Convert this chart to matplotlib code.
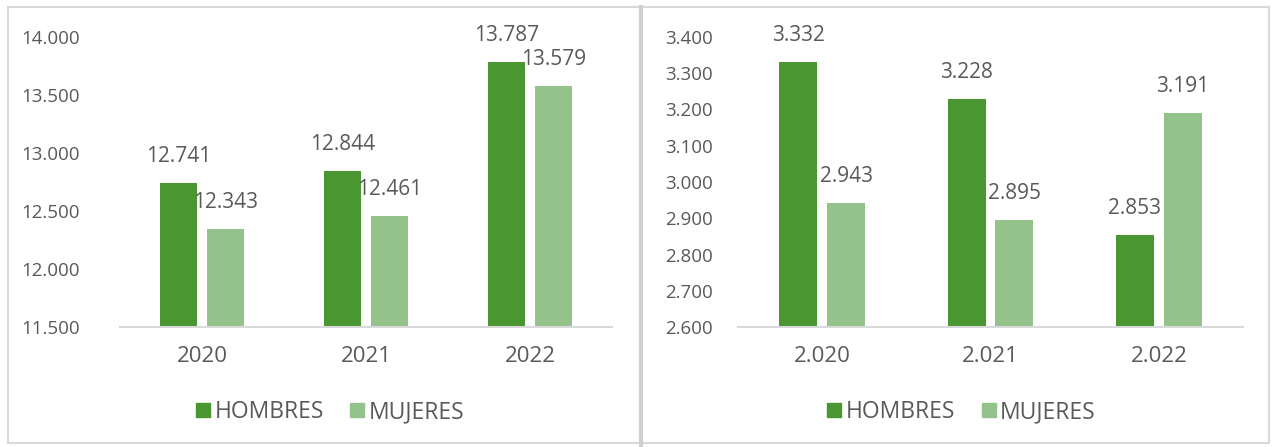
import matplotlib
matplotlib.use("Agg")
from matplotlib import pyplot as plt
from matplotlib.patches import Rectangle
from matplotlib.lines import Line2D

# Data
years_left = ["2020", "2021", "2022"]
hombres_left = [12741, 12844, 13787]
mujeres_left = [12343, 12461, 13579]

years_right = ["2.020", "2.021", "2.022"]
hombres_right = [3332, 3228, 2853]
mujeres_right = [2943, 2895, 3191]

series_names = ["HOMBRES", "MUJERES"]
colors = ["#4a9630", "#93c38a"]
text_color = "#595959"
border_color = "#d9d9d9"

W, H = 1272, 447
plt.rcParams["font.family"] = ["Open Sans", "DejaVu Sans"]

fig = plt.figure(figsize=(W / 100, H / 100), dpi=100)
fig.patch.set_facecolor("white")


def px_axes(x0, x1, y_top, y_bot):
    return fig.add_axes([x0 / W, 1 - y_bot / H, (x1 - x0) / W, (y_bot - y_top) / H])


def fmt(v):
    return f"{v:,.0f}".replace(",", ".")


def draw_panel(ax, cats, hombres, mujeres, ylim, yticks, ypad, legend_x):
    width = 0.225
    off = 0.142
    xs = range(len(cats))
    for vals, sign, color in [(hombres, -1, colors[0]), (mujeres, 1, colors[1])]:
        pos = [x + sign * off for x in xs]
        heights = [v - ylim[0] for v in vals]
        ax.bar(pos, heights, width, bottom=ylim[0], color=color, zorder=2)
        for p, v in zip(pos, vals):
            ax.annotate(fmt(v), (p, v), xytext=(0, 19), textcoords="offset points",
                        ha="center", va="center", fontsize=15, color=text_color)
    ax.set_xlim(-0.5, len(cats) - 0.5)
    ax.set_ylim(*ylim)
    ax.set_xticks(list(xs))
    ax.set_xticklabels(cats, fontsize=16, color=text_color)
    ax.set_yticks(yticks)
    ax.set_yticklabels([fmt(t) for t in yticks], fontsize=13.5, color=text_color)
    ax.tick_params(axis="x", length=0, pad=14)
    ax.tick_params(axis="y", length=0, pad=ypad)
    for s in ["top", "right", "left"]:
        ax.spines[s].set_visible(False)
    ax.spines["bottom"].set_color(border_color)
    ax.spines["bottom"].set_linewidth(1.5)
    ax.set_facecolor("none")

    handles = [Line2D([], [], marker="s", linestyle="none", markersize=10,
                      color=c) for c in colors]
    leg = ax.legend(handles, series_names, loc="center", ncol=2, frameon=False,
                    bbox_to_anchor=(legend_x / W, 1 - 412 / H),
                    bbox_transform=fig.transFigure, fontsize=16.5,
                    handletextpad=0.15, columnspacing=1.1, handlelength=0.7)
    for t in leg.get_texts():
        t.set_color(text_color)


# Panel frames
fig.patches.append(Rectangle((8 / W, 1 - 443 / H), (641 - 8) / W, (443 - 7) / H,
                             transform=fig.transFigure, fill=False,
                             edgecolor=border_color, linewidth=1.5))
fig.patches.append(Rectangle((641 / W, 1 - 443 / H), (1269 - 641) / W, (443 - 7) / H,
                             transform=fig.transFigure, fill=False,
                             edgecolor=border_color, linewidth=1.5))
fig.lines.append(Line2D([641 / W, 641 / W], [0, 1 - 7 / H], transform=fig.transFigure,
                        color="#cfcfcf", linewidth=3))

ax1 = px_axes(120, 612, 37, 327)
draw_panel(ax1, years_left, hombres_left, mujeres_left, (11500, 14000),
           list(range(11500, 14001, 500)), 29, 330)

ax2 = px_axes(738, 1243, 37, 327)
draw_panel(ax2, years_right, hombres_right, mujeres_right, (2600, 3400),
           list(range(2600, 3401, 100)), 18, 961)

fig.savefig("out.png", dpi=100, facecolor="white")
